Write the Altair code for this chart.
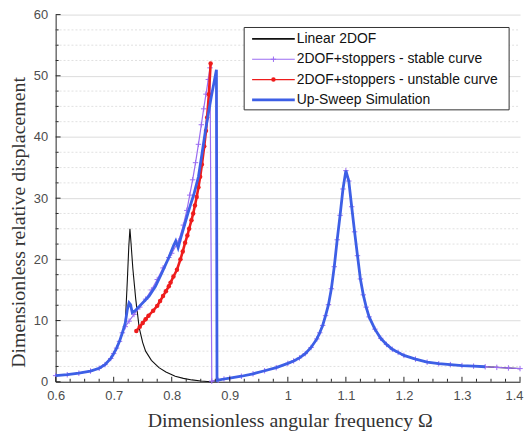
import altair as alt
import pandas as pd

# ---------------- data ----------------
left_omega = [0.60, 0.62, 0.64, 0.66, 0.675, 0.685, 0.695, 0.70, 0.705, 0.71, 0.715, 0.72]
left_amp = [1.0, 1.15, 1.4, 1.75, 2.2, 2.8, 3.8, 4.6, 5.5, 6.6, 8.0, 9.6]

right_omega = [0.88, 0.89, 0.90, 0.92, 0.94, 0.96, 0.98, 1.00, 1.01, 1.02, 1.03, 1.04,
               1.05, 1.055, 1.06, 1.065, 1.07, 1.075, 1.08, 1.085, 1.09, 1.095, 1.10,
               1.105, 1.11, 1.115, 1.12, 1.125, 1.13, 1.135, 1.14, 1.15, 1.16, 1.17,
               1.18, 1.19, 1.20, 1.22, 1.24, 1.26, 1.28, 1.30, 1.32, 1.34]
right_amp = [0.25, 0.45, 0.6, 0.9, 1.3, 1.8, 2.3, 3.0, 3.4, 3.9, 4.6, 5.6,
             7.0, 8.0, 9.2, 10.8, 12.6, 15.2, 18.8, 23.2, 27.2, 31.5, 34.5,
             32.8, 28.6, 24.5, 20.6, 16.8, 14.2, 12.2, 10.6, 8.6, 7.1, 6.1,
             5.3, 4.8, 4.3, 3.7, 3.2, 2.95, 2.8, 2.65, 2.55, 2.45]
tail_omega = [1.36, 1.38, 1.40]
tail_amp = [2.35, 2.25, 2.15]

linear_mid_omega = [0.7236, 0.726, 0.728, 0.730, 0.733, 0.738, 0.744, 0.75, 0.755, 0.765,
                    0.778, 0.79, 0.806, 0.82, 0.835, 0.85, 0.867]
linear_mid_amp = [16.7, 22.0, 25.0, 22.5, 18.5, 13.5, 8.8, 6.4, 5.0, 3.5,
                  2.3, 1.6, 0.9, 0.55, 0.3, 0.12, 0.0]

stable_mid_omega = [0.7265, 0.735, 0.745, 0.755, 0.765, 0.775, 0.785, 0.795, 0.80, 0.812,
                    0.82, 0.826, 0.831, 0.836, 0.841, 0.846, 0.851, 0.855, 0.859, 0.863,
                    0.866, 0.869]
stable_mid_amp = [9.9, 11.0, 12.2, 13.5, 15.0, 16.7, 18.6, 20.3, 21.0, 23.0,
                  25.6, 28.0, 30.5, 33.0, 35.8, 38.8, 42.0, 44.6, 47.0, 49.4,
                  51.3, 0.1]

unstable_omega = [0.739, 0.745, 0.75, 0.755, 0.76, 0.768, 0.775, 0.78, 0.785, 0.79, 0.795,
                  0.798, 0.803, 0.809, 0.815, 0.819, 0.823, 0.827, 0.83, 0.834, 0.837, 0.84,
                  0.843, 0.846, 0.849, 0.852, 0.856, 0.859, 0.861, 0.864, 0.867]
unstable_amp = [8.3, 9.0, 9.6, 10.2, 10.8, 11.6, 12.4, 13.2, 14.0, 14.8, 15.6,
                16.2, 17.2, 18.3, 20.0, 21.3, 22.7, 23.9, 25.0, 26.4, 27.5, 28.8,
                30.2, 31.8, 33.5, 35.5, 38.5, 41.0, 43.2, 47.0, 52.0]

sweep_mid_omega = [0.7235, 0.7265, 0.729, 0.732, 0.737, 0.745, 0.753, 0.761, 0.772, 0.783,
                   0.795, 0.803, 0.807, 0.811, 0.815, 0.822, 0.83, 0.838, 0.846, 0.852,
                   0.858, 0.863, 0.868, 0.873, 0.877, 0.878]
sweep_mid_amp = [11.8, 12.9, 12.6, 11.3, 11.6, 12.4, 13.2, 14.0, 15.6, 17.8,
                 20.3, 22.2, 23.0, 21.9, 23.3, 25.6, 28.2, 30.6, 33.5, 37.2,
                 41.0, 43.8, 46.5, 49.0, 51.0, 0.2]

legend_labels = ["Linear 2DOF", "2DOF+stoppers - stable curve",
                 "2DOF+stoppers - unstable curve", "Up-Sweep Simulation"]

x_major = [0.6, 0.7, 0.8, 0.9, 1.0, 1.1, 1.2, 1.3, 1.4]
x_minor = [0.625, 0.65, 0.675, 0.725, 0.75, 0.775, 0.825, 0.85, 0.875, 0.925, 0.95, 0.975,
           1.025, 1.05, 1.075, 1.125, 1.15, 1.175, 1.225, 1.25, 1.275, 1.325, 1.35, 1.375]
y_major = [0, 10, 20, 30, 40, 50, 60]
y_minor = [2.5, 5, 7.5, 12.5, 15, 17.5, 22.5, 25, 27.5, 32.5, 35, 37.5,
           42.5, 45, 47.5, 52.5, 55, 57.5]

# ---------------- colours ----------------
C_BLACK = "#111111"
C_PURPLE = "#9b6df2"
C_RED = "#ee1c1c"
C_BLUE = "#3d5fe6"


def frame(om, am):
    return pd.DataFrame({"omega": om, "amp": am, "i": list(range(len(om)))})


linear_df = frame(left_omega + linear_mid_omega + right_omega + tail_omega,
                  left_amp + linear_mid_amp + right_amp + tail_amp)
stable_df = frame(left_omega + stable_mid_omega + right_omega + tail_omega,
                  left_amp[:-1] + [9.0] + stable_mid_amp + right_amp + tail_amp)
unstable_df = frame(unstable_omega, unstable_amp)
sweep_df = frame(left_omega + sweep_mid_omega + right_omega,
                 left_amp + sweep_mid_amp + right_amp)

xs = alt.Scale(domain=[0.6, 1.4], nice=False, zero=False)
ys = alt.Scale(domain=[0, 60], nice=False, zero=False)
xaxis = alt.Axis(values=x_major, labelExpr="format(datum.value, '~g')",
                 title="Dimensionless angular frequency Ω", grid=False, labelFlush=False,
                 labelAlign={"condition": {"test": "datum.value > 1.35", "value": "right"},
                             "value": "center"},
                 labelOffset={"condition": {"test": "datum.value > 1.35", "value": 3},
                              "value": 0},
                 titleX=236, titleY=45, titleBaseline="alphabetic", labelPadding=8)
yaxis = alt.Axis(values=y_major, title="Dimensionless relative displacement", grid=True,
                 labelFlush=False,
                 titleX=-37, titleY=209, titleBaseline="middle", titleAngle=-90,
                 labelPadding=8)
X = alt.X("omega:Q", scale=xs, axis=xaxis)
Y = alt.Y("amp:Q", scale=ys, axis=yaxis)
O = alt.Order("i:Q")

W, H = 468, 370

minor_grid = alt.Chart(pd.DataFrame({"amp": y_minor})).mark_rule(
    color="#d9d9d9", strokeWidth=0.8, strokeDash=[2, 2]
).encode(y=Y, x=alt.value(0), x2=alt.value(W))

linear = alt.Chart(linear_df).mark_line(color=C_BLACK, strokeWidth=1.1).encode(x=X, y=Y, order=O)
stable_line = alt.Chart(stable_df).mark_line(color=C_PURPLE, strokeWidth=1.2).encode(x=X, y=Y, order=O)
stable_pts = alt.Chart(stable_df).mark_point(
    shape="M-1,0L1,0M0,-1L0,1", filled=False, size=30, color=C_PURPLE, strokeWidth=1, opacity=1
).encode(x=X, y=Y)
unstable_line = alt.Chart(unstable_df).mark_line(color=C_RED, strokeWidth=2.6).encode(x=X, y=Y, order=O)
unstable_pts = alt.Chart(unstable_df).mark_point(
    shape="circle", filled=True, size=20, color=C_RED, opacity=1
).encode(x=X, y=Y)
sweep = alt.Chart(sweep_df).mark_line(color=C_BLUE, strokeWidth=2.8).encode(x=X, y=Y, order=O)

x_ticks_major = alt.Chart(pd.DataFrame({"omega": x_major})).mark_rule(
    color="#262626", strokeWidth=1).encode(x=X, y=alt.value(H), y2=alt.value(H - 5))
x_ticks_minor = alt.Chart(pd.DataFrame({"omega": x_minor})).mark_rule(
    color="#262626", strokeWidth=1).encode(x=X, y=alt.value(H), y2=alt.value(H - 3))
y_ticks_major = alt.Chart(pd.DataFrame({"amp": y_major})).mark_rule(
    color="#262626", strokeWidth=1).encode(y=Y, x=alt.value(0), x2=alt.value(5))
y_ticks_minor = alt.Chart(pd.DataFrame({"amp": y_minor})).mark_rule(
    color="#262626", strokeWidth=1).encode(y=Y, x=alt.value(0), x2=alt.value(3))

one = pd.DataFrame({"k": [0]})
legend_box = alt.Chart(one).mark_rect(fill="white", stroke="#333333", strokeWidth=1).encode(
    x=alt.value(190), x2=alt.value(457), y=alt.value(13), y2=alt.value(96))

row_y = [24.5, 45, 65.5, 86]
row_col = [C_BLACK, C_PURPLE, C_RED, C_BLUE]
row_w = [1.6, 1.2, 1.4, 2.8]
legend_layers = []
for k in range(4):
    legend_layers.append(alt.Chart(one).mark_rule(color=row_col[k], strokeWidth=row_w[k]).encode(
        x=alt.value(198), x2=alt.value(241), y=alt.value(row_y[k])))
    legend_layers.append(alt.Chart(one).mark_text(
        text=legend_labels[k], align="left", baseline="middle", font="Liberation Sans",
        fontSize=14, color="#111111").encode(x=alt.value(243), y=alt.value(row_y[k])))
legend_layers.append(alt.Chart(one).mark_point(
    shape="M-1,0L1,0M0,-1L0,1", filled=False, size=30, color=C_PURPLE, strokeWidth=1, opacity=1
).encode(x=alt.value(219.5), y=alt.value(row_y[1])))
legend_layers.append(alt.Chart(one).mark_point(
    shape="circle", filled=True, size=20, color=C_RED, opacity=1
).encode(x=alt.value(219.5), y=alt.value(row_y[2])))

chart = alt.layer(
    minor_grid, linear, stable_line, stable_pts, unstable_line, unstable_pts, sweep,
    x_ticks_major, x_ticks_minor, y_ticks_major, y_ticks_minor,
    legend_box, *legend_layers
).properties(
    width=W, height=H, autosize="none",
    padding={"left": 48, "top": 5, "right": 4, "bottom": 50}
).configure_view(stroke=None).configure_axis(
    domainColor="#262626", domainWidth=1, ticks=False,
    labelColor="#4d4d4d", labelFont="Liberation Sans", labelFontSize=13,
    titleFont="Liberation Serif", titleFontSize=20, titleColor="#333333",
    titleFontWeight="normal", gridColor="#dcdcdc", gridWidth=1
)

chart.save("out.html", embed_options={"renderer": "svg", "actions": False})
